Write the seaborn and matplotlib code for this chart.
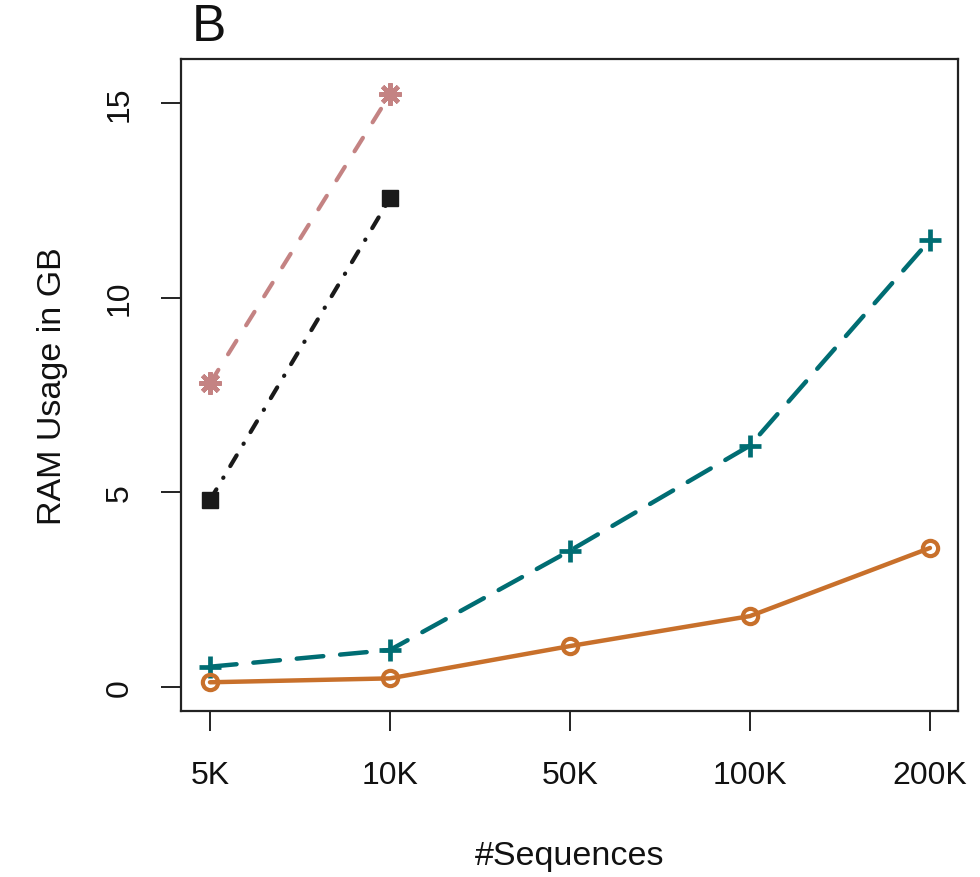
import matplotlib
matplotlib.use("Agg")
import matplotlib.pyplot as plt
import seaborn as sns
import pandas as pd

sns.set_style("ticks")
plt.rcParams["font.family"] = ["Liberation Sans", "DejaVu Sans"]

# Data
sizes = ["5K", "10K", "50K", "100K", "200K"]
tool_a = [0.12, 0.22, 1.05, 1.82, 3.57]      # orange, solid, open circles
tool_b = [0.52, 0.95, 3.50, 6.20, 11.48]     # teal, long dashes, plus
tool_c = [4.80, 12.55]                       # black, dash-dot, squares
tool_d = [7.80, 15.22]                       # pink, short dashes, asterisks

fig = plt.figure(figsize=(9.8, 8.78), dpi=100)
ax = fig.add_axes([0.1847, 0.1891, 0.7929, 0.7426])


def frame(vals):
    return pd.DataFrame({"x": list(range(len(vals))), "y": vals})


def draw(vals, color, lw, dashes, marker, ms, mew, mfc):
    sns.lineplot(data=frame(vals), x="x", y="y", ax=ax, color=color,
                 linewidth=lw, marker=marker, markersize=ms,
                 markeredgewidth=mew, markeredgecolor=color,
                 markerfacecolor=mfc, zorder=3)
    line = ax.lines[-1]
    if dashes is not None:
        line.set_dashes(dashes)
    line.set_dash_capstyle("round")
    line.set_solid_capstyle("round")


draw(tool_d, "#C48383", 3.0, (3.8, 4.4), (8, 2, 0), 16, 3.2, "#C48383")
draw(tool_c, "#1A1A1A", 3.0, (3.0, 3.2, 0.1, 3.2), "s", 11.5, 1.0, "#1A1A1A")
draw(tool_b, "#006D73", 3.2, (6.0, 3.8), "+", 16, 3.4, "#006D73")
draw(tool_a, "#C8702B", 3.2, None, "o", 11, 3.0, "none")

ax.set_xlim(-0.161, 4.156)
ax.set_ylim(-0.617, 16.13)
ax.set_xticks(range(len(sizes)))
ax.set_xticklabels(sizes)
ax.set_yticks([0, 5, 10, 15])
ax.set_yticklabels(["0", "5", "10", "15"], rotation=90, va="center")

for s in ax.spines.values():
    s.set_visible(True)
    s.set_color("#222222")
    s.set_linewidth(1.6)

ax.tick_params(axis="both", direction="out", length=14.5, width=1.4,
               color="#222222", labelsize=23, labelcolor="#111111",
               bottom=True, left=True, top=False, right=False)
ax.tick_params(axis="x", pad=21)
ax.tick_params(axis="y", pad=19)

ax.set_xlabel("#Sequences", fontsize=24.5, labelpad=36, color="#111111")
ax.set_ylabel("RAM Usage in GB", fontsize=24.5, labelpad=26, color="#111111")
fig.text(0.196, 0.969, "B", fontsize=37, ha="left", va="center", color="#111111")

fig.savefig("out.png", dpi=100, facecolor="white")
